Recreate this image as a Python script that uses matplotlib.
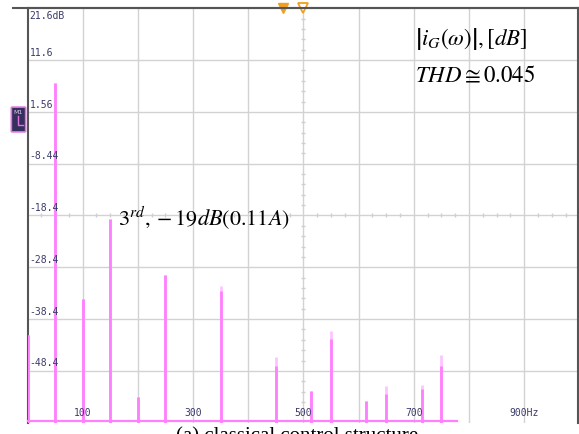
import matplotlib
matplotlib.use("Agg")
import matplotlib.pyplot as plt
from matplotlib.patches import FancyBboxPatch

plt.rcParams["mathtext.fontset"] = "stix"

# Harmonic spectrum of the grid current (FFT on the scope)
freqs_hz = [0, 50, 100, 150, 200, 250, 350, 450, 514, 550, 614, 650, 714, 750]
peak_db = [-41.5, 7.1, -34.5, -19.0, -53.4, -29.9, -32.0, -45.7, -52.3, -40.7, -54.2, -51.4, -51.2, -45.3]
live_db = [-41.5, 7.1, -34.5, -19.0, -53.4, -29.9, -33.0, -47.5, -52.3, -42.2, -54.2, -52.9, -51.8, -47.4]

y_levels = [21.6, 11.6, 1.56, -8.44, -18.4, -28.4, -38.4, -48.4]
y_labels = ["21.6dB", "11.6", "1.56", "-8.44", "-18.4", "-28.4", "-38.4", "-48.4"]
x_grid = [100, 200, 300, 400, 500, 600, 700, 800, 900]
x_label_pos = [100, 300, 500, 700, 900]
x_labels = ["100", "300", "500", "700", "900Hz"]
y_floor = -58.4
x_max = 997.3
trace_end_hz = 778
marker_filled_hz = 463
marker_open_hz = 500

W, H = 579, 434
fig = plt.figure(figsize=(W / 100, H / 100), dpi=100)
ax = fig.add_axes([27.5 / W, (H - 422.7) / H, (578 - 27.5) / W, (422.7 - 8.3) / H])
ax.set_xlim(0, x_max)
ax.set_ylim(y_floor, y_levels[0])
ax.set_xticks([])
ax.set_yticks([])

grid_c = "#d2d2d2"
for yv in y_levels[1:]:
    ax.axhline(yv, color=grid_c, lw=1.0, zorder=1)
for xv in x_grid:
    ax.axvline(xv, color=grid_c, lw=1.0, zorder=1)

# center crosshair minor ticks
tick_c = "#cfcfcf"
hx = [f for f in range(25, int(x_max), 25) if f % 100]
ax.plot(hx, [-18.4] * len(hx), ls="none", marker="|", ms=3.5, mew=1.0, color=tick_c, zorder=1)
vy = [y_floor + 2 * k for k in range(1, 40)]
vy = [v for v in vy if 0.5 < (v - y_floor) % 10 < 9.5]
ax.plot([500] * len(vy), vy, ls="none", marker="_", ms=3.5, mew=1.0, color=tick_c, zorder=1)

for s in ["left", "top", "right"]:
    ax.spines[s].set_color("#555555")
    ax.spines[s].set_linewidth(1.5)
ax.spines["bottom"].set_visible(False)

# spectral lines: max-hold (light) and live (bright)
ax.vlines(freqs_hz, y_floor, peak_db, color="#ffc4ff", lw=2.0, zorder=3)
ax.vlines(freqs_hz, y_floor, live_db, color="#ff80ff", lw=2.0, zorder=4)
ax.plot([0, trace_end_hz], [y_floor + 0.25, y_floor + 0.25], color="#ff80ff", lw=1.6, zorder=4, clip_on=False)

# scale labels
lab_c = "#3a3a6a"
for yv, lab in zip(y_levels, y_labels):
    off = -0.6 if yv == y_levels[0] else 0.5
    va = "top" if yv == y_levels[0] else "bottom"
    ax.text(4, yv + off, lab, fontsize=7, family="DejaVu Sans Mono", color=lab_c, va=va, ha="left", zorder=5)
for xv, lab in zip(x_label_pos, x_labels):
    ax.text(xv, y_floor + 0.9, lab, fontsize=7, family="DejaVu Sans Mono", color=lab_c, va="bottom", ha="center", zorder=5)

# cursor markers
ax.plot([marker_filled_hz], [y_levels[0]], marker="v", ms=7, color="#f0a020", clip_on=False, zorder=6)
ax.plot([marker_open_hz], [y_levels[0]], marker="v", ms=7, mfc="white", mec="#f0a020", mew=1.3, clip_on=False, zorder=6)

# annotations
ax.text(702, 15.6, r"$\left|i_G(\omega)\right|,[dB]$", fontsize=16.5, color="black", ha="left", va="center", zorder=7)
ax.text(702, 8.5, r"$THD \cong 0.045$", fontsize=16.5, color="black", ha="left", va="center", zorder=7)
ax.text(164, -18.8, r"$3^{rd}, -19dB(0.11A)$", fontsize=16, color="black", ha="left", va="center", zorder=7)

# top rule extending past the scale
fig.add_artist(plt.Line2D([13 / W, 578 / W], [(H - 7.5) / H] * 2, color="#555555", lw=1.5))

# M1 channel tag
box = FancyBboxPatch((12.5 / W, (H - 131) / H), 12 / W, 23 / H, boxstyle="round,pad=0.002",
                     transform=fig.transFigure, facecolor="#34305c", edgecolor="#e070e0", lw=1.2)
fig.add_artist(box)
fig.text(18.5 / W, (H - 112) / H, "M1", fontsize=4.5, color="#e8c8f0", ha="center", va="center", family="DejaVu Sans")
fig.add_artist(plt.Line2D([18 / W, 18 / W, 23 / W], [(H - 116) / H, (H - 125) / H, (H - 125) / H], color="#e070e0", lw=1))

# caption
fig.text(297 / W, (H - 437) / H, "(a) classical control structure", fontsize=15, family="Liberation Serif",
         ha="center", va="center")

fig.savefig("out.png", dpi=100)
